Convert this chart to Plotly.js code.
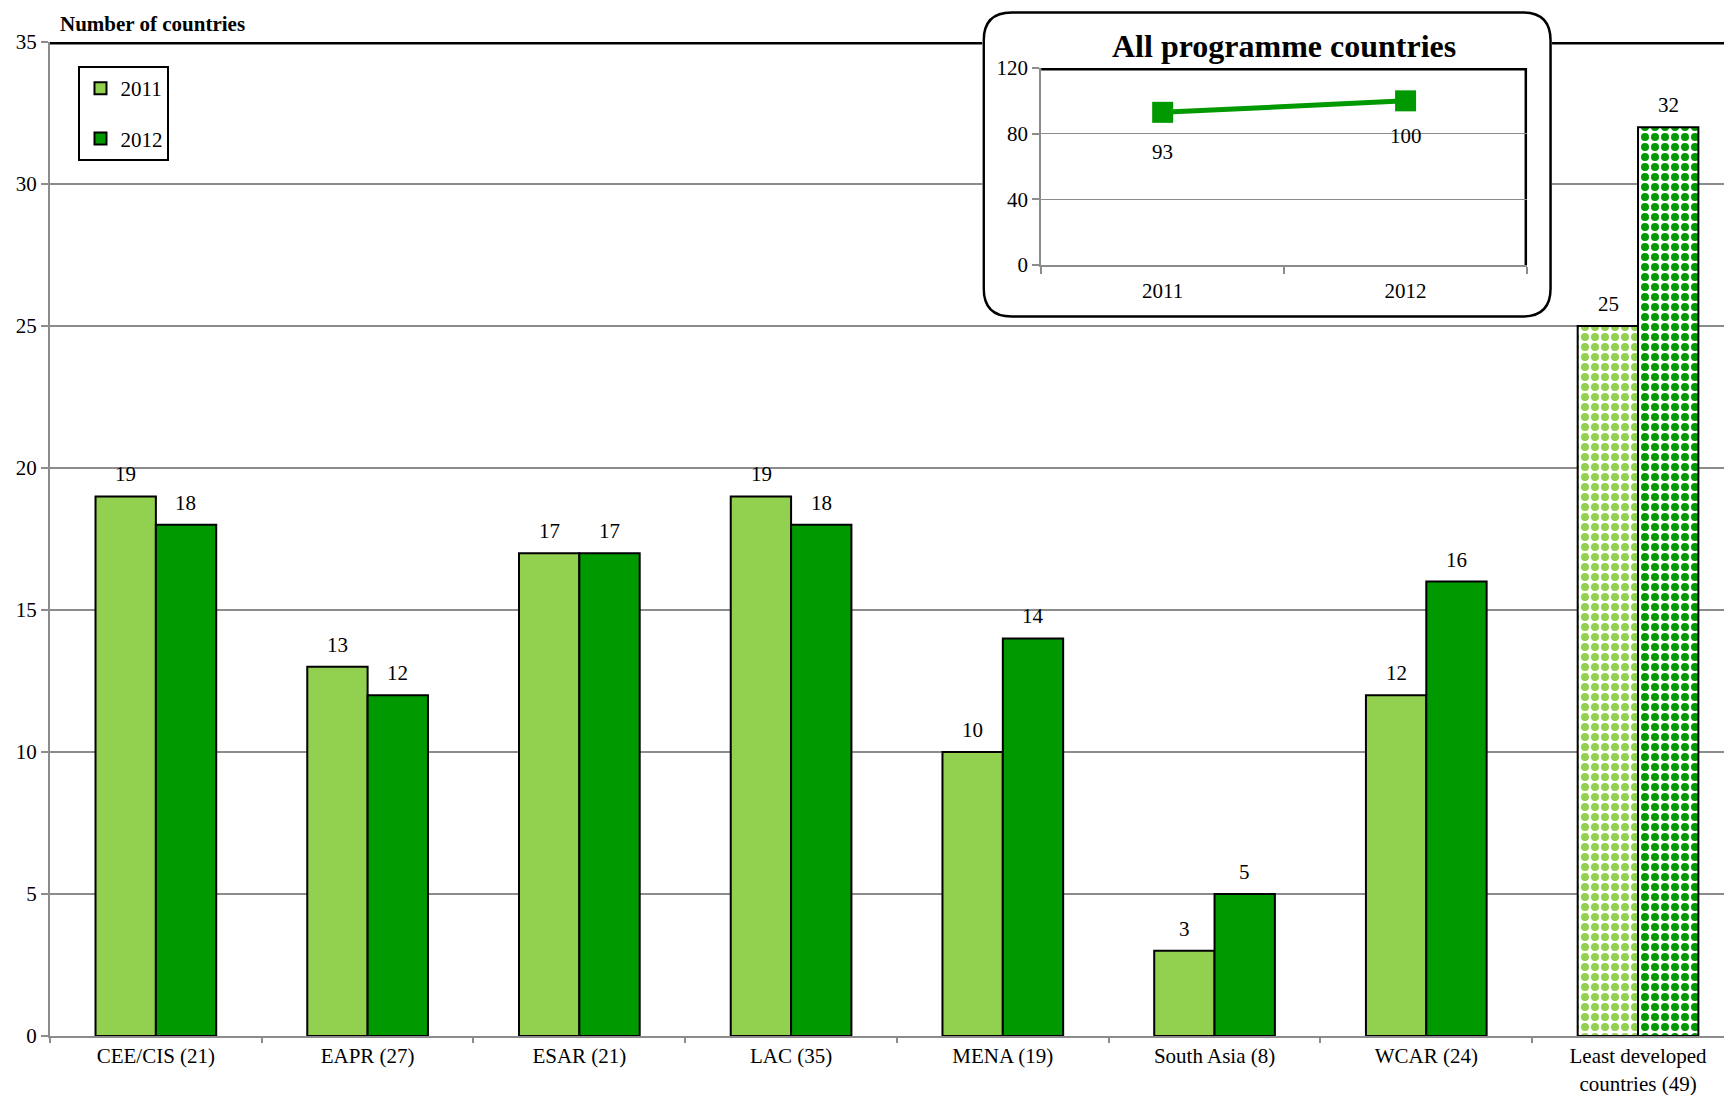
<!DOCTYPE html>
<html>
<head>
<meta charset="utf-8">
<script src="https://cdn.plot.ly/plotly-3.0.1.min.js"></script>
<style>html,body{margin:0;padding:0;background:#fff;overflow:hidden;}</style>
</head>
<body>
<div id="chart" style="width:1724px;height:1095px;"></div>
<script>
// ---- data ----
const categories = ['CEE/CIS (21)','EAPR (27)','ESAR (21)','LAC (35)','MENA (19)','South Asia (8)','WCAR (24)','Least developed<br>countries (49)'];
const values2011 = [19,13,17,19,10,3,12,25];
const values2012 = [18,12,17,18,14,5,16,32];
const patternShapes = ['','','','','','','','.'];
const insetYears = ['2011','2012'];
const insetValues = [93,100];
const seriesNames = ['2011','2012'];

// ---- style ----
const FONT = 'Liberation Serif, Times New Roman, serif';
const LIGHT = '#92D050';
const DARK = '#009900';
const GRID = '#8c8c8c';

// geometry (pixels)
const W = 1724, H = 1095, ML = 49.5, MR = 0, MT = 5, MB = 59;
const PW = W - ML - MR, PH = H - MT - MB;
const mainTop = 42;
const inset = {l:1041, r:1527, t:68, b:265};
const box = {l:982, r:1552, t:11, b:318, rad:28};
const px = v => (v - ML) / PW;
const py = v => (H - MB - v) / PH;

const traces = [
  {type:'bar', name:seriesNames[0], legendgroup:'a', x:categories, y:values2011,
   marker:{color:LIGHT, line:{color:'#000', width:2},
     pattern:{shape:patternShapes, fgcolor:LIGHT, bgcolor:'#fff', size:10, solidity:0.5, fillmode:'replace'}},
   hoverinfo:'none'},
  {type:'bar', name:seriesNames[1], legendgroup:'b', x:categories, y:values2012,
   marker:{color:DARK, line:{color:'#000', width:2},
     pattern:{shape:patternShapes, fgcolor:DARK, bgcolor:'#fff', size:10, solidity:0.5, fillmode:'replace'}},
   hoverinfo:'none'},
  // empty trace holding the inset frame subplot
  {type:'scatter', mode:'markers', x:[], y:[], xaxis:'x2', yaxis:'y2', showlegend:false, hoverinfo:'none'},
  {type:'scatter', mode:'lines+markers', x:insetYears, y:insetValues, xaxis:'x3', yaxis:'y3',
   showlegend:false, line:{color:DARK, width:5}, marker:{symbol:'square', size:21, color:DARK},
   hoverinfo:'none', cliponaxis:false}
];

// rounded frame path in x2/y2 data units (range 0..1)
const bw = box.r - box.l, bh = box.b - box.t, d = 1.5;
const fx0 = d/bw, fx1 = 1 - d/bw, fy0 = d/bh, fy1 = 1 - d/bh;
const rx = box.rad/bw, ry = box.rad/bh;
const boxPath = `M${fx0+rx},${fy1} L${fx1-rx},${fy1} Q${fx1},${fy1} ${fx1},${fy1-ry} L${fx1},${fy0+ry} Q${fx1},${fy0} ${fx1-rx},${fy0} L${fx0+rx},${fy0} Q${fx0},${fy0} ${fx0},${fy0+ry} L${fx0},${fy1-ry} Q${fx0},${fy1} ${fx0+rx},${fy1} Z`;

const annotations = [];
const barHalf = 30;
const labelFont = {family:FONT, size:21, color:'#000'};
values2011.forEach((v,i)=>annotations.push({x:i, y:v, xref:'x', yref:'y', text:String(v), showarrow:false,
  xshift:-barHalf, yshift:8, yanchor:'bottom', font:labelFont}));
values2012.forEach((v,i)=>annotations.push({x:i, y:v, xref:'x', yref:'y', text:String(v), showarrow:false,
  xshift:barHalf, yshift:8, yanchor:'bottom', font:labelFont}));
insetValues.forEach((v,i)=>annotations.push({x:i, y:v, xref:'x3', yref:'y3', text:String(v), showarrow:false,
  yshift:i===0?-40:-35, yanchor:'middle', font:labelFont}));
annotations.push({xref:'paper', yref:'paper', x:px(58), y:py(24), xanchor:'left', yanchor:'middle',
  text:'<b>Number of countries</b>', showarrow:false, font:{family:FONT, size:21, color:'#000'}});
annotations.push({xref:'paper', yref:'paper', x:px((inset.l+inset.r)/2), y:py(46), xanchor:'center', yanchor:'middle',
  text:'<b>All programme countries</b>', showarrow:false, font:{family:FONT, size:32, color:'#000'}});

const tickFont = {family:FONT, size:21, color:'#000'};
const layout = {
  width:W, height:H,
  margin:{l:ML, r:MR, t:MT, b:MB, pad:0},
  paper_bgcolor:'#fff', plot_bgcolor:'#fff',
  font:{family:FONT, size:21, color:'#000'},
  barmode:'group', bargap:0.43, bargroupgap:0,
  showlegend:true,
  legend:{x:px(78), y:py(66), xanchor:'left', yanchor:'top', bgcolor:'#fff',
    bordercolor:'#000', borderwidth:2, font:{family:FONT, size:21, color:'#000'},
    tracegroupgap:20, traceorder:'grouped'},
  xaxis:{type:'category', range:[-0.5, -0.5 + PW/211.8], showline:true, linecolor:GRID, linewidth:2,
    ticks:'outside', tickson:'boundaries', ticklen:5, tickcolor:GRID, tickwidth:2, showgrid:false,
    ticklabelstandoff:0, tickfont:tickFont, fixedrange:true, zeroline:false},
  yaxis:{domain:[0, py(mainTop)], range:[0,35], dtick:5, showgrid:true, gridcolor:GRID, gridwidth:1.5,
    showline:true, linecolor:GRID, linewidth:2,
    ticks:'outside', ticklen:7, tickcolor:GRID, tickwidth:2, zeroline:false, tickfont:tickFont, fixedrange:true},
  xaxis2:{domain:[px(box.l), px(box.r)], anchor:'y2', range:[0,1], visible:false, fixedrange:true},
  yaxis2:{domain:[py(box.b), py(box.t)], anchor:'x2', range:[0,1], visible:false, fixedrange:true},
  xaxis3:{type:'category', domain:[px(inset.l), px(inset.r)], anchor:'y3', range:[-0.5,1.5],
    showline:true, linecolor:GRID, linewidth:2, ticks:'outside', tickson:'boundaries', ticklen:7, tickcolor:GRID, tickwidth:2,
    ticklabelstandoff:6, showgrid:false, tickfont:tickFont, fixedrange:true, zeroline:false},
  yaxis3:{domain:[py(inset.b), py(inset.t)], anchor:'x3', range:[0,120], dtick:40,
    showgrid:true, gridcolor:GRID, gridwidth:1.5, showline:true, linecolor:GRID, linewidth:2,
    ticks:'outside', ticklen:7, tickcolor:GRID, tickwidth:2, zeroline:false, tickfont:tickFont, fixedrange:true},
  shapes:[
    {type:'line', xref:'x', yref:'y', x0:-1, x1:10, y0:35, y1:35, layer:'below', line:{color:'#000', width:5}},
    {type:'path', xref:'x2', yref:'y2', path:boxPath, layer:'below', fillcolor:'#fff', line:{color:'#000', width:2.5}},
    {type:'line', xref:'x3', yref:'y3', x0:-1, x1:3, y0:120, y1:120, layer:'below', line:{color:'#000', width:5}},
    {type:'line', xref:'x3', yref:'y3', x0:1.5, x1:1.5, y0:0, y1:120, layer:'below', line:{color:'#000', width:5}}
  ],
  annotations:annotations
};

Plotly.newPlot('chart', traces, layout, {displayModeBar:false, staticPlot:true});
</script>
</body>
</html>
